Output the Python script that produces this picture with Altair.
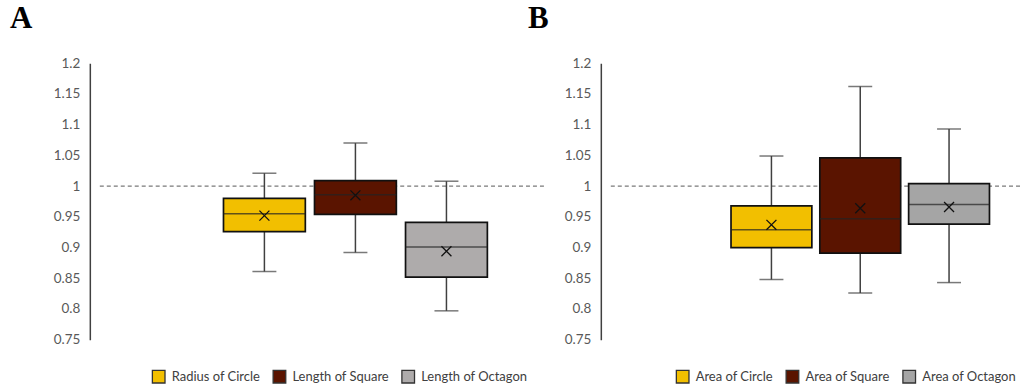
import altair as alt
import pandas as pd

# ---- data ----
cats_a = ["Radius of Circle", "Length of Square", "Length of Octagon"]
min_a = [0.861, 0.892, 0.797]
q1_a = [0.926, 0.954, 0.852]
med_a = [0.955, 0.986, 0.901]
q3_a = [0.980, 1.009, 0.941]
max_a = [1.021, 1.070, 1.008]
mean_a = [0.952, 0.985, 0.894]
colors_a = ["#F2BF00", "#5A1400", "#AEABAB"]

cats_b = ["Area of Circle", "Area of Square", "Area of Octagon"]
min_b = [0.848, 0.826, 0.843]
q1_b = [0.900, 0.891, 0.938]
med_b = [0.929, 0.947, 0.970]
q3_b = [0.968, 1.046, 1.004]
max_b = [1.049, 1.162, 1.093]
mean_b = [0.937, 0.964, 0.966]
colors_b = ["#F2BF00", "#5A1400", "#A5A5A5"]

y_ticks = [0.75, 0.8, 0.85, 0.9, 0.95, 1.0, 1.05, 1.1, 1.15, 1.2]
reference_value = 1.0

FONT = "Lato"
AXIS_COLOR = "#404040"
LABEL_COLOR = "#595959"
PLOT_H = 277


def panel(cats, mn, q1, med, q3, mx, mean, colors, width, pad_outer, align,
          pad_inner, box_w, letter, letter_x, legend_x):
    df = pd.DataFrame({"cat": cats, "min": mn, "q1": q1, "med": med,
                       "q3": q3, "max": mx, "mean": mean})
    xs = alt.Scale(domain=cats, paddingInner=pad_inner, paddingOuter=pad_outer,
                   align=align)
    ys = alt.Scale(domain=[0.75, 1.2], nice=False, zero=False)
    x = alt.X("cat:N", scale=xs, axis=None, sort=cats)
    y_axis = alt.Axis(values=y_ticks, format="~g", grid=False, ticks=False,
                      domainColor=AXIS_COLOR, domainWidth=1.5,
                      labelColor=LABEL_COLOR, labelFont=FONT, labelFontSize=13.5,
                      labelOverlap=False, labelFlush=False,
                      labelPadding=10, title=None)

    def Y(field):
        return alt.Y(field, scale=ys, axis=y_axis)

    base = alt.Chart(df)

    whisker = base.mark_rule(color=AXIS_COLOR, strokeWidth=1.5).encode(
        x=x, y=Y("min:Q"), y2="max:Q")
    caps_lo = base.mark_tick(color=AXIS_COLOR, thickness=1.5, size=24).encode(
        x=x, y=Y("min:Q"))
    caps_hi = base.mark_tick(color=AXIS_COLOR, thickness=1.5, size=24).encode(
        x=x, y=Y("max:Q"))
    box = base.mark_bar(stroke="#111111", strokeWidth=1.7, size=box_w,
                        opacity=1).encode(
        x=x, y=Y("q1:Q"), y2="q3:Q",
        color=alt.Color("cat:N", sort=cats,
                        scale=alt.Scale(domain=cats, range=colors),
                        legend=alt.Legend(
                            title=None, orient="none", direction="horizontal",
                            legendX=legend_x, legendY=PLOT_H + 30,
                            symbolType="square", symbolSize=160,
                            symbolStrokeColor="#333333", symbolStrokeWidth=1.3,
                            symbolOpacity=1,
                            labelFont=FONT, labelFontSize=13,
                            labelColor=AXIS_COLOR, labelOffset=6,
                            columnPadding=10, padding=0)))
    median = base.mark_tick(color="#222222", thickness=1.6, size=box_w).encode(
        x=x, y=Y("med:Q"))
    mean_pt = base.mark_point(shape="M-1,-1L1,1M1,-1L-1,1", filled=False,
                              stroke="#111111", strokeWidth=1.3, size=100,
                              opacity=1).encode(
        x=x, y=Y("mean:Q"))
    ref = alt.Chart(pd.DataFrame({"v": [reference_value]})).mark_rule(
        color="#7a7a7a", strokeDash=[4, 3], strokeWidth=1.4).encode(
        y=Y("v:Q"), x=alt.value(10), x2=alt.value(width))
    label = alt.Chart(pd.DataFrame({"t": [letter]})).mark_text(
        font="Liberation Serif", fontSize=31, fontWeight="bold",
        align="left", baseline="top", color="#000000").encode(
        text="t:N", x=alt.value(letter_x), y=alt.value(-59))

    return alt.layer(ref, whisker, caps_lo, caps_hi, box, median, mean_pt,
                     label).properties(width=width, height=PLOT_H)


chart_a = panel(cats_a, min_a, q1_a, med_a, q3_a, max_a, mean_a, colors_a,
                456, 1.0, 0.709, 0.0, 82, "A", -80, 62)
chart_b = panel(cats_b, min_b, q1_b, med_b, q3_b, max_b, mean_b, colors_b,
                420, 0.905, 0.81, 0.09, 81, "B", -73, 75)

chart = alt.hconcat(chart_a, chart_b, spacing=-18).resolve_scale(
    color="independent", x="independent").properties(
    padding={"left": 10, "top": 3, "right": 0, "bottom": 0},
    background="white"
).configure_axis(labelOverlap=False).configure_view(strokeWidth=0, stroke=None)

chart.save("out.html", embed_options={"renderer": "svg", "actions": False})
